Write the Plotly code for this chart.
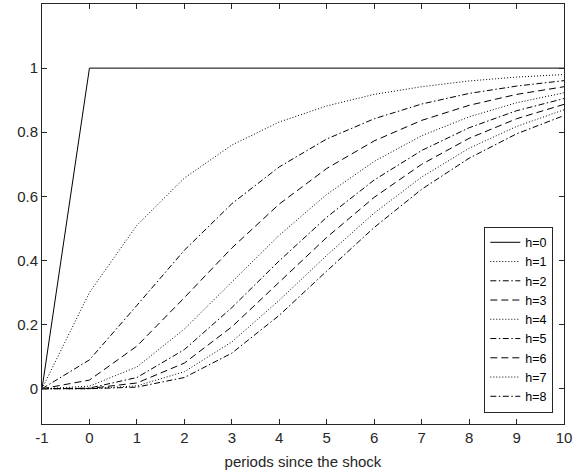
import plotly.graph_objects as go

periods = [-1, 0, 1, 2, 3, 4, 5, 6, 7, 8, 9, 10]
series_names = ["h=0", "h=1", "h=2", "h=3", "h=4", "h=5", "h=6", "h=7", "h=8"]

h0 = [0, 1, 1, 1, 1, 1, 1, 1, 1, 1, 1, 1]
h1 = [0, 0.300, 0.510, 0.657, 0.760, 0.832, 0.882, 0.918, 0.942, 0.960, 0.972, 0.980]
h2 = [0, 0.090, 0.260, 0.432, 0.577, 0.692, 0.779, 0.842, 0.888, 0.921, 0.944, 0.961]
h3 = [0, 0.027, 0.133, 0.284, 0.439, 0.576, 0.687, 0.773, 0.837, 0.884, 0.918, 0.942]
h4 = [0, 0.008, 0.068, 0.186, 0.333, 0.479, 0.606, 0.709, 0.789, 0.848, 0.892, 0.923]
h5 = [0, 0.002, 0.035, 0.122, 0.253, 0.399, 0.535, 0.651, 0.743, 0.814, 0.867, 0.905]
h6 = [0, 0.001, 0.018, 0.080, 0.193, 0.332, 0.472, 0.597, 0.700, 0.781, 0.842, 0.887]
h7 = [0, 0.000, 0.009, 0.053, 0.146, 0.276, 0.416, 0.548, 0.660, 0.750, 0.818, 0.870]
h8 = [0, 0.000, 0.005, 0.035, 0.111, 0.229, 0.367, 0.503, 0.622, 0.719, 0.795, 0.852]

all_series = [h0, h1, h2, h3, h4, h5, h6, h7, h8]

x_ticks = [-1, 0, 1, 2, 3, 4, 5, 6, 7, 8, 9, 10]
x_tick_labels = ["-1", "0", "1", "2", "3", "4", "5", "6", "7", "8", "9", "10"]
y_ticks = [0, 0.2, 0.4, 0.6, 0.8, 1]
y_tick_labels = ["0", "0.2", "0.4", "0.6", "0.8", "1"]

SOLID = "solid"
DOT = "1px,2px"
DASHDOT = "6px,2.5px,1.5px,2.5px"
DASH = "7px,4px"
dash_styles = [SOLID, DOT, DASHDOT, DASH, DOT, DASHDOT, DASH, DOT, DASHDOT]

FONT = "Liberation Sans, Arial, Helvetica, sans-serif"

fig = go.Figure()
for name, ys, dash in zip(series_names, all_series, dash_styles):
    fig.add_trace(go.Scatter(
        x=periods, y=ys, name=name, mode="lines",
        line=dict(color="black", width=1, dash=dash),
    ))

axis_common = dict(
    showline=True, linecolor="#262626", linewidth=1, mirror="ticks",
    ticks="inside", ticklen=5, tickcolor="#262626", tickwidth=1,
    showgrid=False, zeroline=False, automargin=False,
    tickfont=dict(family=FONT, size=15, color="#262626"),
)

fig.update_layout(
    width=573, height=474,
    margin=dict(l=42, r=9, t=4, b=50),
    paper_bgcolor="white", plot_bgcolor="white",
    font=dict(family=FONT, size=14, color="#262626"),
    showlegend=True,
    legend=dict(
        x=0.9795, y=0.027, xanchor="right", yanchor="bottom",
        bgcolor="white", bordercolor="#262626", borderwidth=1,
        font=dict(family=FONT, size=12.5, color="black"),
        tracegroupgap=0,
    ),
    xaxis=dict(
        range=[-1, 10], tickvals=x_ticks, ticktext=x_tick_labels,
        title=dict(text="periods since the shock", font=dict(family=FONT, size=15, color="#262626"), standoff=11),
        **axis_common,
    ),
    yaxis=dict(
        range=[-0.11, 1.2], tickvals=y_ticks, ticktext=y_tick_labels,
        **axis_common,
    ),
)

fig.write_html(
    "out.html",
    config={"displayModeBar": False},
    post_script="document.body.style.margin='0';",
)
